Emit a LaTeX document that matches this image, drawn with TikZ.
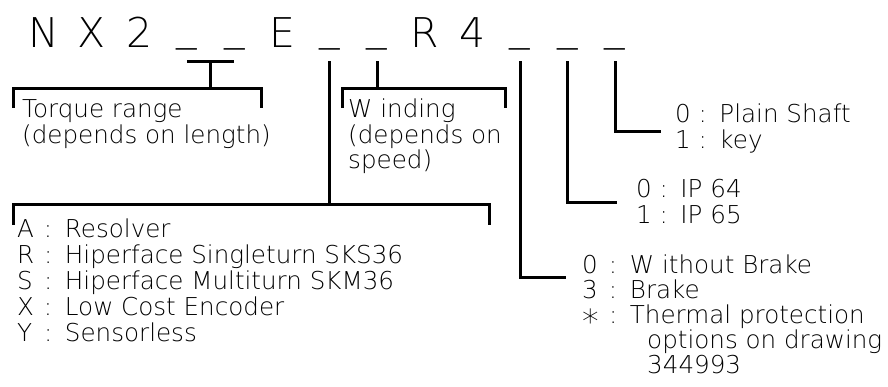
\documentclass[tikz,border=0pt]{standalone}
\usepackage{fontspec}
\IfFontExistsTF{DejaVu Sans ExtraLight}
  {\setmainfont{DejaVu Sans ExtraLight}}
  {\setmainfont{DejaVu Sans}}
\usetikzlibrary{calc}
\tikzset{
  wire/.style={line width=3pt, line cap=butt, line join=miter},
  code/.style={anchor=base, inner sep=0pt, text height=31pt, text depth=13pt, font=\fontsize{41}{41}\selectfont},
  lbl/.style={anchor=base west, inner sep=0pt, font=\fontsize{24.6}{25.5}\selectfont}
}
\newcommand{\blank}{\raisebox{0.19em}{\_}}
\newcommand{\optstar}{\raisebox{-0.42em}{\scalebox{1.35}{*}}}
\newcommand{\opt}[3][1.09em]{\makebox[#1][l]{#2}\makebox[0.85em][l]{:}#3}
\begin{document}
\begin{tikzpicture}[x=1pt, y=-1pt]
\useasboundingbox (0,0) rectangle (888,387);

% type code
\foreach \ch [count=\i] in {N,X,2,\blank,\blank,E,\blank,\blank,R,4,\blank,\blank,\blank}
  \node[code] (c\i) at (44+47.6*\i-47.6, 48) {\ch};

% torque range
\draw[wire] (c4.south) -- (c5.south);
\draw[wire] ($(c4.south)!.5!(c5.south)$) -- ++(0,28);
\draw[wire] (13,108) |- (261,89) -- ++(0,19);
\foreach \txt [count=\i from 0] in {{Torque range},{(depends on length)}}
  \node[lbl] (trq\i) at (22,118+25.5*\i) {\txt};

% winding
\draw[wire] (c8.south) -- ++(0,28);
\draw[wire] (342,108) |- (505,89) -- ++(0,19);
\foreach \txt [count=\i from 0] in {{W inding},{(depends on},{speed)}}
  \node[lbl] (wdg\i) at (348,118+25.5*\i) {\txt};

% feedback
\draw[wire] (c7.south) -- ++(0,144);
\draw[wire] (13,225) |- (489,205) -- ++(0,20);
\foreach \k/\txt [count=\i from 0] in {A/Resolver,R/Hiperface Singleturn SKS36,S/Hiperface Multiturn SKM36,X/Low Cost Encoder,Y/Sensorless}
  \node[lbl] (fbk\i) at (17,237+26*\i) {\opt{\k}{\txt}};

% brake
\draw[wire] (c11.south) |- ++(46,216);
\foreach \k/\txt [count=\i from 0] in {0/W ithout Brake,3/Brake,\optstar/Thermal protection}
  \node[lbl] (brk\i) at (582,273+25*\i) {\opt{\k}{\txt}};
\node[lbl] (brk3) at (647,348) {options on drawing};
\node[lbl] (brk4) at (647,373) {344993};

% protection
\draw[wire] (c12.south) |- ++(49,141);
\foreach \k/\txt [count=\i from 0] in {0/IP 64,1/IP 65}
  \node[lbl] (ip\i) at (636,198+25.5*\i) {\opt[0.95em]{\k}{\txt}};

% shaft
\draw[wire] (c13.south) |- ++(46,70);
\foreach \k/\txt [count=\i from 0] in {0/Plain Shaft,1/key}
  \node[lbl] (sft\i) at (675,123+25.5*\i) {\opt[0.95em]{\k}{\txt}};
\end{tikzpicture}
\end{document}
